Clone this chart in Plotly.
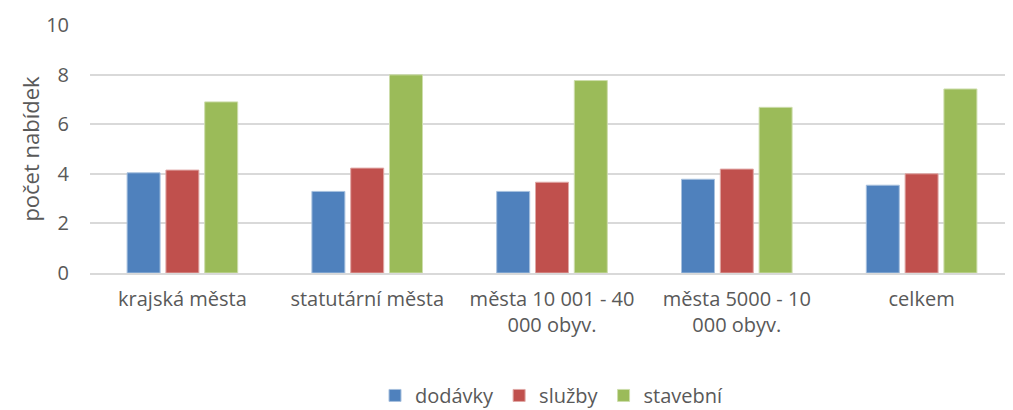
import plotly.graph_objects as go

categories = ["krajská města", "statutární města", "města 10 001 - 40<br>000 obyv.",
              "města 5000 - 10<br>000 obyv.", "celkem"]
dodavky = [4.04, 3.29, 3.29, 3.78, 3.54]
sluzby = [4.15, 4.23, 3.66, 4.19, 4.00]
stavebni = [6.90, 7.99, 7.76, 6.68, 7.42]

series = [("dodávky", dodavky, "#4F81BD", "#A7C0DE"),
          ("služby", sluzby, "#C0504D", "#E0A8A6"),
          ("stavební", stavebni, "#9BBB59", "#CDDDAC")]

fig = go.Figure()
for name, vals, col, edge in series:
    fig.add_trace(go.Bar(
        x=categories, y=vals, name=name,
        marker=dict(color=col, line=dict(color=edge, width=1)),
    ))

# page has an 8px body margin, so offsets are compensated here
fig.update_layout(
    width=1013, height=410,
    margin=dict(l=82, r=7, t=17, b=145, autoexpand=False),
    paper_bgcolor="white", plot_bgcolor="white",
    font=dict(family="Open Sans, Liberation Sans, sans-serif", color="#595959", size=20),
    barmode="group", bargap=0.37, bargroupgap=0.15,
    yaxis=dict(
        range=[0, 10], dtick=2, showgrid=True, gridcolor="#D9D9D9", gridwidth=1.5,
        zeroline=False, ticks="", ticklabelstandoff=20,
        title=dict(text="počet nabídek", font=dict(size=22), standoff=0),
    ),
    xaxis=dict(showline=True, linecolor="#D9D9D9", linewidth=1.5, ticks="",
               tickangle=0, ticklabelstandoff=7),
    legend=dict(orientation="h", x=0.5, xanchor="center", yref="container",
                y=0.055, yanchor="middle", font=dict(size=20), itemwidth=30),
)

fig.write_html("out.html")
